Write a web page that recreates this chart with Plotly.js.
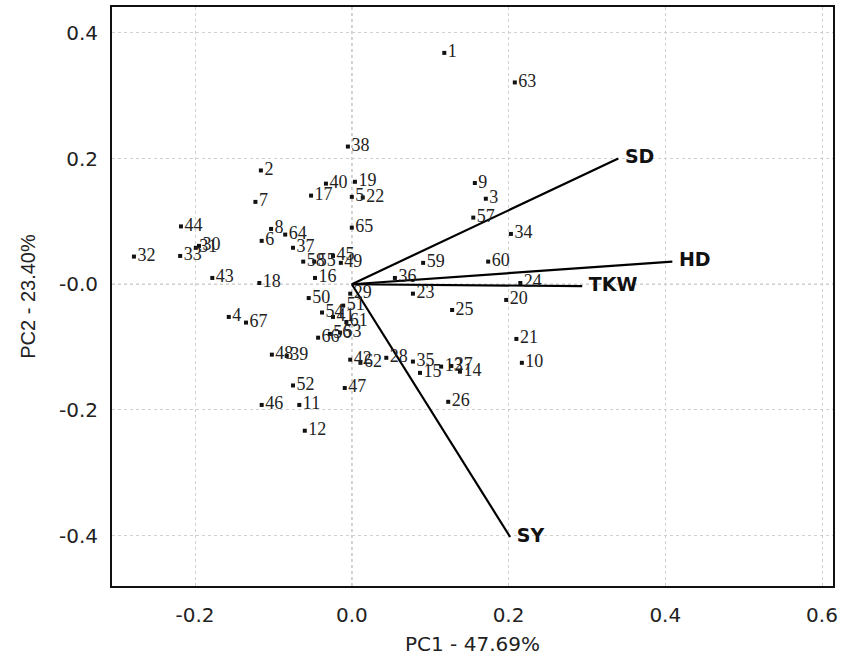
<!DOCTYPE html>
<html>
<head>
<meta charset="utf-8">
<script src="https://cdn.plot.ly/plotly-3.0.1.min.js"></script>
<style>html,body{margin:0;padding:0;background:#fff;}#chart{width:843px;height:656px;}</style>
</head>
<body>
<div id="chart"></div>
<script>
// Genotype scores (PC1, PC2)
const genotypes = ["1","2","3","4","5","6","7","8","9","10","11","12","13","14","15","16","17","18","19","20","21","22","23","24","25","26","27","28","29","30","31","32","33","34","35","36","37","38","39","40","41","42","43","44","45","46","47","48","49","50","51","52","53","54","55","56","57","58","59","60","61","62","63","64","65","66","67"];
const pc1 = [0.118,-0.116,0.171,-0.157,0.000,-0.115,-0.123,-0.103,0.157,0.217,-0.067,-0.060,0.114,0.138,0.087,-0.047,-0.052,-0.118,0.004,0.197,0.210,0.014,0.078,0.215,0.128,0.123,0.127,0.044,-0.002,-0.195,-0.199,-0.278,-0.219,0.203,0.078,0.055,-0.075,-0.005,-0.083,-0.033,-0.024,-0.002,-0.178,-0.218,-0.024,-0.115,-0.009,-0.102,-0.014,-0.055,-0.011,-0.075,-0.015,-0.038,-0.048,-0.028,0.155,-0.062,0.091,0.174,-0.007,0.011,0.208,-0.085,0.000,-0.043,-0.135];
const pc2 = [0.368,0.181,0.136,-0.052,0.139,0.069,0.131,0.088,0.161,-0.125,-0.192,-0.233,-0.131,-0.139,-0.141,0.010,0.141,0.002,0.163,-0.025,-0.087,0.138,-0.015,0.002,-0.041,-0.187,-0.130,-0.117,-0.015,0.061,0.058,0.044,0.045,0.080,-0.123,0.010,0.058,0.219,-0.114,0.160,-0.052,-0.120,0.010,0.092,0.045,-0.192,-0.165,-0.112,0.034,-0.022,-0.034,-0.161,-0.077,-0.045,0.036,-0.079,0.106,0.036,0.034,0.036,-0.060,-0.125,0.321,0.079,0.090,-0.085,-0.061];

// Trait loading vectors
const traits = ["SD","HD","TKW","SY"];
const traitPC1 = [0.340,0.409,0.294,0.202];
const traitPC2 = [0.200,0.036,-0.003,-0.402];

const xTicks = [-0.2,0.0,0.2,0.4,0.6];
const xTickText = ["-0.2","0.0","0.2","0.4","0.6"];
const yTicks = [0.4,0.2,0.0,-0.2,-0.4];
const yTickText = ["0.4","0.2","-0.0","-0.2","-0.4"];

const traces = [];
traits.forEach((t,i)=>{
  traces.push({
    x:[0,traitPC1[i]], y:[0,traitPC2[i]], mode:'lines', type:'scatter',
    line:{color:'#000',width:2.2}, hoverinfo:'skip', showlegend:false
  });
});
traces.push({
  x:pc1, y:pc2, text:genotypes, mode:'markers+text', type:'scatter',
  marker:{symbol:'square',size:4,color:'#111'},
  textposition:'middle right',
  textfont:{family:'"Liberation Serif", "Times New Roman", serif',size:18,color:'#222'},
  showlegend:false, cliponaxis:false
});
traces.push({
  x:traitPC1, y:traitPC2, text:traits, mode:'text', type:'scatter',
  textposition:'middle right',
  textfont:{family:'"DejaVu Sans", Arial, sans-serif',size:19,color:'#111',weight:'bold'},
  texttemplate:'<b> %{text}</b>',
  showlegend:false, cliponaxis:false
});

const layout = {
  width:843, height:656,
  margin:{l:112,r:10,t:7,b:70},
  paper_bgcolor:'#fff', plot_bgcolor:'#fff',
  showlegend:false,
  xaxis:{
    range:[-0.306,0.614], tickvals:xTicks, ticktext:xTickText,
    showgrid:true, gridcolor:'#d0d0d0', griddash:'dot', gridwidth:1,
    zeroline:false, showline:true, mirror:true, linecolor:'#111', linewidth:2,
    ticks:'', ticklabelstandoff:10,
    tickfont:{family:'"DejaVu Sans", Arial, sans-serif',size:20,color:'#222'},
    title:{text:'PC1 - 47.69%', standoff:14, font:{family:'"DejaVu Sans", Arial, sans-serif',size:20,color:'#222'}},
    automargin:false
  },
  yaxis:{
    range:[-0.48,0.441], tickvals:yTicks, ticktext:yTickText,
    showgrid:true, gridcolor:'#d0d0d0', griddash:'dot', gridwidth:1,
    zeroline:false, showline:true, mirror:true, linecolor:'#111', linewidth:2,
    ticks:'', ticklabelstandoff:8,
    tickfont:{family:'"DejaVu Sans", Arial, sans-serif',size:20,color:'#222'},
    title:{text:'PC2 - 23.40%', standoff:18, font:{family:'"Liberation Sans", Arial, sans-serif',size:20,color:'#222'}},
    automargin:false
  },
  shapes:[
    {type:'line',xref:'x',yref:'paper',x0:0,x1:0,y0:0,y1:1,line:{color:'#999',width:1.2,dash:'dot'},layer:'below'},
    {type:'line',xref:'paper',yref:'y',x0:0,x1:1,y0:0,y1:0,line:{color:'#999',width:1.2,dash:'dot'},layer:'below'}
  ]
};

Plotly.newPlot('chart', traces, layout, {displayModeBar:false, staticPlot:true});
</script>
</body>
</html>
